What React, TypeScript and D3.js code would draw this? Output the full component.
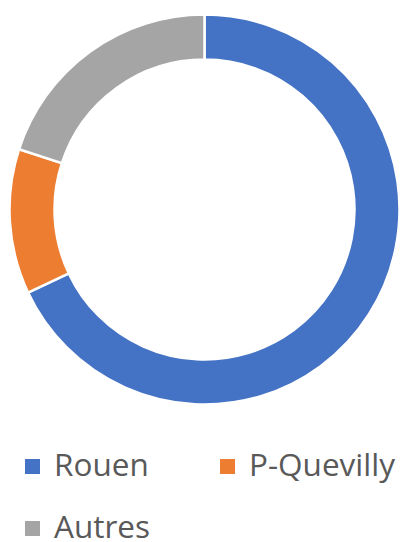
import React from "react";
import * as d3 from "d3";

const categories = ["Rouen", "P-Quevilly", "Autres"];
const values = [68, 12, 20];
const colors = ["#4472C4", "#ED7D31", "#A5A5A5"];

export default function App() {
  const width = 403;
  const height = 542;
  const cx = 204.5;
  const cy = 209.5;
  const outerR = 195;
  const innerR = 150;

  const pie = d3.pie<number>().sort(null).value((d) => d);
  const arcs = pie(values);
  const arcGen = d3.arc<d3.PieArcDatum<number>>().innerRadius(innerR).outerRadius(outerR);

  const legendItems = [
    { x: 25, y: 476 },
    { x: 220, y: 476 },
    { x: 25, y: 538 },
  ];

  return (
    <svg
      width={width}
      height={height}
      style={{ position: "absolute", left: 0, top: 0 }}
    >
      <rect width={width} height={height} fill="#fff" />
      <g transform={`translate(${cx},${cy})`}>
        {arcs.map((a, i) => (
          <path key={i} d={arcGen(a) || ""} fill={colors[i]} stroke="#fff" strokeWidth={2.5} />
        ))}
      </g>
      {categories.map((c, i) => (
        <g key={c} transform={`translate(${legendItems[i].x},${legendItems[i].y})`}>
          <rect x={0} y={-17} width={15} height={15} fill={colors[i]} />
          <text
            x={29}
            y={0}
            fontFamily="'Open Sans', sans-serif"
            fontSize={31.5}
            fill="#595959"
          >
            {c}
          </text>
        </g>
      ))}
    </svg>
  );
}
